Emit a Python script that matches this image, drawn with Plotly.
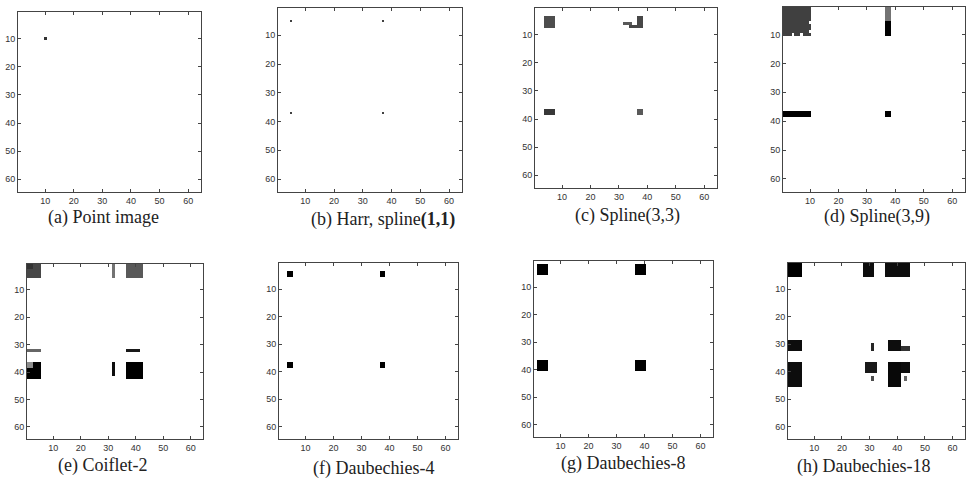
import numpy as np
import plotly.graph_objects as go

W, H = 967, 478
N = 64

# Image content per panel: (row_start, row_end, col_start, col_end, intensity 0..1), applied in order
point_image = [(10, 10, 10, 10, 0.8)]
haar_spline11 = [(5, 5, 5, 5, 0.75), (5, 5, 37, 37, 0.75), (37, 37, 5, 5, 0.75), (37, 37, 37, 37, 0.75)]
spline33 = [(4, 7, 4, 7, 0.7), (4, 7, 37, 38, 0.72), (6, 6, 32, 34, 0.65), (7, 7, 34, 36, 0.72),
            (37, 38, 4, 7, 0.78), (37, 38, 37, 38, 0.65)]
spline39 = [(1, 10, 1, 10, 0.75), (10, 10, 4, 4, 0.0), (10, 10, 7, 7, 0.0), (6, 6, 10, 10, 0.0),
            (9, 9, 10, 10, 0.0), (1, 5, 37, 38, 0.55), (6, 10, 37, 38, 1.0),
            (37, 38, 1, 10, 1.0), (37, 38, 37, 38, 1.0)]
coiflet2 = [(1, 5, 1, 5, 0.72), (1, 2, 1, 2, 0.8), (1, 5, 32, 32, 0.55), (1, 5, 37, 42, 0.65),
            (32, 32, 1, 5, 0.6), (32, 32, 37, 41, 0.9), (37, 42, 1, 5, 1.0), (37, 38, 1, 2, 0.45),
            (37, 41, 32, 32, 0.95), (37, 42, 37, 42, 1.0)]
daub4 = [(4, 5, 4, 5, 1.0), (4, 5, 37, 38, 1.0), (37, 38, 4, 5, 1.0), (37, 38, 37, 38, 1.0)]
daub8 = [(2, 5, 2, 5, 1.0), (2, 5, 37, 40, 1.0), (37, 40, 2, 5, 1.0), (37, 40, 37, 40, 1.0)]
daub18 = [(1, 5, 1, 5, 1.0), (1, 5, 28, 31, 0.95), (1, 5, 36, 44, 0.95), (29, 32, 1, 5, 0.95),
          (37, 45, 1, 5, 0.95), (30, 32, 31, 31, 0.85), (29, 32, 37, 41, 0.95), (31, 32, 42, 44, 0.8),
          (37, 40, 29, 32, 0.9), (42, 43, 31, 31, 0.7), (37, 45, 37, 41, 0.97), (37, 40, 42, 44, 0.95),
          (42, 43, 43, 43, 0.6)]

panels = [point_image, haar_spline11, spline33, spline39, coiflet2, daub4, daub8, daub18]
captions = ["(a) Point image", "(b) Harr, spline<b>(1,1)</b>", "(c) Spline(3,3)", "(d) Spline(3,9)",
            "(e) Coiflet-2", "(f) Daubechies-4", "(g) Daubechies-8", "(h) Daubechies-18"]
tick_values = [10, 20, 30, 40, 50, 60]

# layout geometry (pixels): plot box x0, x1, y0, y1 and caption centre
boxes = [(18, 201, 12, 192), (278, 462, 8, 192), (535, 717, 8, 188), (783, 965, 7, 192),
         (27, 203, 264, 439), (279, 458, 263, 439), (534, 713, 261, 437), (788, 965, 263, 439)]
cap_pos = [(103, 217), (383, 219), (627, 215), (877, 216),
           (102, 465), (373, 468), (623, 463), (863, 466)]

idx = list(range(1, N + 1))
fig = go.Figure()
layout = dict(width=W, height=H, margin=dict(l=0, r=0, t=0, b=0),
              paper_bgcolor="white", plot_bgcolor="white", showlegend=False)
annotations = []
for i, (blocks, box, cap, cp) in enumerate(zip(panels, boxes, captions, cap_pos), start=1):
    z = np.zeros((N, N))
    for r0, r1, c0, c1, v in blocks:
        z[r0 - 1:r1, c0 - 1:c1] = v
    sfx = "" if i == 1 else str(i)
    fig.add_trace(go.Heatmap(z=z, x=idx, y=idx, zmin=0, zmax=1,
                             colorscale=[[0, "white"], [1, "black"]], showscale=False,
                             xaxis="x" + sfx, yaxis="y" + sfx, hoverinfo="skip"))
    x0, x1, y0, y1 = box
    common = dict(tickvals=tick_values, ticks="inside", ticklen=3, tickcolor="#444",
                  mirror="allticks", showline=True, linecolor="#444", linewidth=1,
                  showgrid=False, zeroline=False,
                  tickfont=dict(family="Liberation Sans", size=9, color="#333"))
    layout["xaxis" + sfx] = dict(domain=[x0 / W, x1 / W], range=[0.5, 64.5],
                                 anchor="y" + sfx, **common)
    layout["yaxis" + sfx] = dict(domain=[1 - y1 / H, 1 - y0 / H], range=[64.5, 0.5],
                                 anchor="x" + sfx, **common)
    annotations.append(dict(text=cap, x=cp[0] / W, y=1 - cp[1] / H, xref="paper", yref="paper",
                            showarrow=False, xanchor="center", yanchor="middle",
                            font=dict(family="Liberation Serif", size=18, color="#222")))
layout["annotations"] = annotations
fig.update_layout(**layout)
fig.write_html("out.html", config={"displayModeBar": False},
               post_script="document.body.style.margin='0';document.body.style.overflow='hidden';")
